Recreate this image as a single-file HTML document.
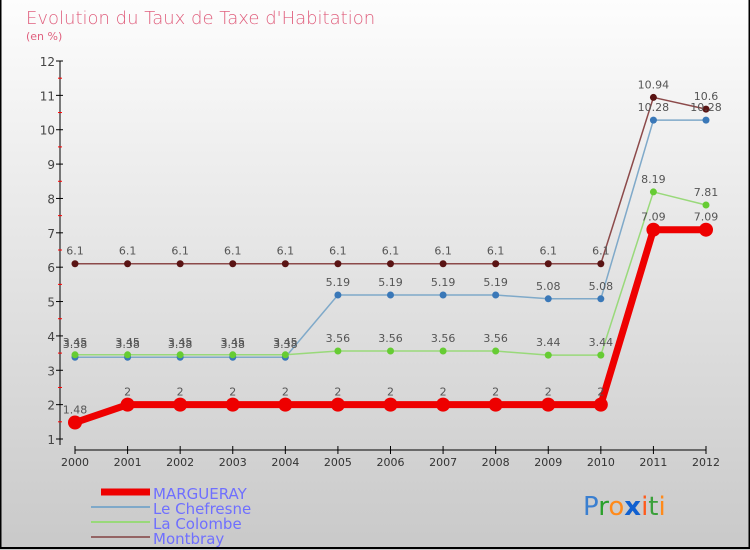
<!DOCTYPE html>
<html><head><meta charset="utf-8"><style>
body{margin:0}
#c{width:750px;height:550px;position:relative;overflow:hidden;font-family:"DejaVu Sans","Liberation Sans",sans-serif}
</style></head><body>
<div id="c">
<svg id="s" width="750" height="550" xmlns="http://www.w3.org/2000/svg">
<defs><linearGradient id="bg" x1="0" y1="0" x2="0" y2="1"><stop offset="0" stop-color="#fdfdfd"/><stop offset="1" stop-color="#c9c9c9"/></linearGradient></defs>
<rect x="0" y="0" width="750" height="550" fill="url(#bg)"/>
<rect x="0.5" y="-1" width="749" height="549" fill="none" stroke="#000" stroke-width="2"/>
<text x="26" y="24" font-size="18" fill="#e0607e" font-weight="300">Evolution du Taux de Taxe d'Habitation</text>
<text x="26" y="40" font-size="11" fill="#e0607e">(en %)</text>
<g id="axes"></g><g id="series"></g>
<g>
<line x1="101" y1="492" x2="150" y2="492" stroke="#ee0000" stroke-width="7"/>
<text x="153" y="499" font-size="15" fill="#6f6fff">MARGUERAY</text>
<line x1="91" y1="507" x2="150" y2="507" stroke="#7fa9c9" stroke-width="2"/>
<text x="153" y="514" font-size="15" fill="#6f6fff">Le Chefresne</text>
<line x1="91" y1="522" x2="150" y2="522" stroke="#99d97a" stroke-width="2"/>
<text x="153" y="529" font-size="15" fill="#6f6fff">La Colombe</text>
<line x1="91" y1="537" x2="150" y2="537" stroke="#946464" stroke-width="2"/>
<text x="153" y="544" font-size="15" fill="#6f6fff">Montbray</text>
</g>
<g font-size="26" font-family="DejaVu Sans, sans-serif">
<text x="583" y="515"><tspan fill="#3a7fd0">P</tspan><tspan fill="#2aa02a">r</tspan><tspan fill="#ff8a1a">o</tspan><tspan fill="#1060d0" font-weight="bold">x</tspan><tspan fill="#ff5a1a">i</tspan><tspan fill="#3aa03a">t</tspan><tspan fill="#ff8a1a">i</tspan></text>
</g>
</svg>
</div>
<script>
const years=[2000,2001,2002,2003,2004,2005,2006,2007,2008,2009,2010,2011,2012];
const yTicks=[1,2,3,4,5,6,7,8,9,10,11,12];
const margueray=[1.48,2,2,2,2,2,2,2,2,2,2,7.09,7.09];
const chefresne=[3.38,3.38,3.38,3.38,3.38,5.19,5.19,5.19,5.19,5.08,5.08,10.28,10.28];
const colombe=[3.45,3.45,3.45,3.45,3.45,3.56,3.56,3.56,3.56,3.44,3.44,8.19,7.81];
const montbray=[6.1,6.1,6.1,6.1,6.1,6.1,6.1,6.1,6.1,6.1,6.1,10.94,10.6];
const NS="http://www.w3.org/2000/svg";
function X(i){return 75+i*(706-75)/(years.length-1);}
function Y(v){return 439-(v-1)*(439-61)/11;}
function mk(t,a,p){const e=document.createElementNS(NS,t);for(const k in a)e.setAttribute(k,a[k]);p.appendChild(e);return e;}
const ax=document.getElementById('axes');
let l=mk('line',{x1:60,y1:61,x2:60,y2:445,stroke:'#000','stroke-width':1},ax);


yTicks.forEach(v=>{
 mk('line',{x1:56,y1:Y(v),x2:63,y2:Y(v),stroke:'#000'},ax);
 if(v<12)mk('line',{x1:58,y1:Y(v+0.5),x2:62,y2:Y(v+0.5),stroke:'#f00'},ax);
 const t=mk('text',{x:55,y:Y(v)+5,'text-anchor':'end','font-size':12,fill:'#444'},ax);
 
 
 t.textContent=v;
});
let xl=mk('line',{x1:X(0),y1:450,x2:X(12),y2:450,stroke:'#000'},ax);


years.forEach((y,i)=>{
 mk('line',{x1:X(i),y1:446,x2:X(i),y2:454,stroke:'#000'},ax);
 const t=mk('text',{x:X(i),y:466,'text-anchor':'middle','font-size':11,fill:'#333'},ax);
 
 
 t.textContent=y;
});
const sg=document.getElementById('series');
function draw(data,name,col,dot,w,r){
 const g=mk('g',{},sg);
 
 
 mk('polyline',{points:data.map((v,i)=>X(i)+','+Y(v)).join(' '),fill:'none',stroke:col,'stroke-width':w,'stroke-linejoin':'round'},g);
 data.forEach((v,i)=>{
  const c=mk('circle',{cx:X(i),cy:Y(v),r:r,fill:dot},g);
  
  
  const t=mk('text',{x:X(i),y:Y(v)-9,'text-anchor':'middle','font-size':11,fill:'#555'},g);
  
  
  t.textContent=v;
 });
}
draw(montbray,'montbray-series','#8c4a4a','#5a1414',1.5,3.5);
draw(chefresne,'le-chefresne-series','#7fa9c9','#3a78b8',1.5,3.5);
draw(colombe,'la-colombe-series','#99d97a','#66cc33',1.5,3.5);
draw(margueray,'margueray-series','#ee0000','#ee0000',7,7);
</script>
</body></html>
